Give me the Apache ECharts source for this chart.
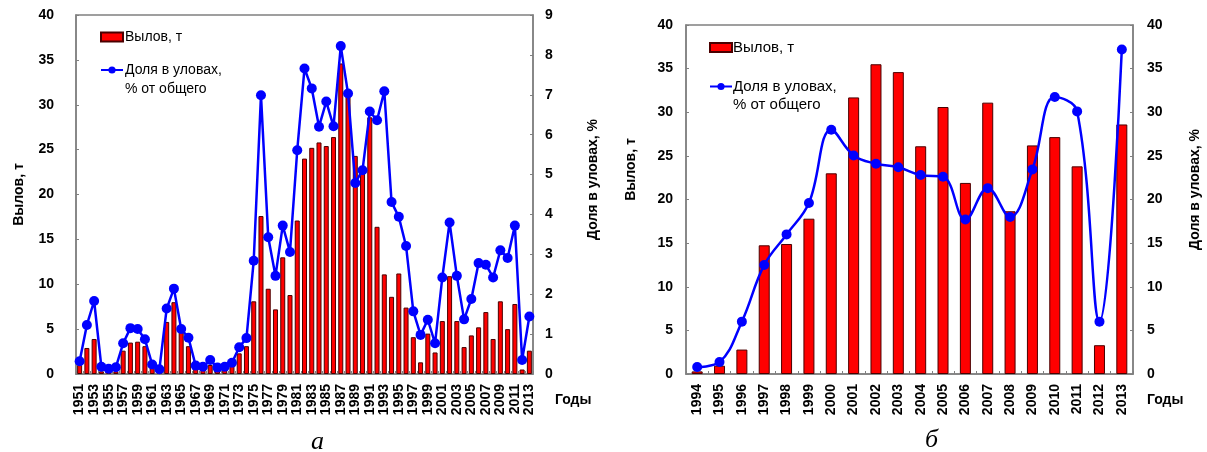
<!DOCTYPE html>
<html><head><meta charset="utf-8">
<script src="https://cdn.jsdelivr.net/npm/echarts@6/dist/echarts.min.js"></script>
<style>html,body{margin:0;padding:0;background:#fff}#c{width:1207px;height:452px}</style>
</head><body><div id="c"></div>
<script>
const yearsA = [];
for (let y = 1951; y <= 2013; y++) yearsA.push(String(y));
const catchA = [1.0,2.9,3.9,0.3,0.2,0.3,2.6,3.5,3.6,3.1,0.9,0.3,5.8,8.0,5.3,3.1,0.8,0.7,1.0,0.5,0.7,1.0,2.3,3.1,8.1,17.6,9.5,7.2,13.0,8.8,17.1,24.0,25.2,25.8,25.4,26.4,34.6,31.0,24.3,22.5,28.6,16.4,11.1,8.6,11.2,7.4,4.1,1.3,4.5,2.4,5.9,10.9,5.9,3.0,4.3,5.2,6.9,3.9,8.1,5.0,7.8,0.5,2.6];
const shareA = [0.32,1.23,1.83,0.18,0.13,0.17,0.77,1.15,1.13,0.87,0.24,0.12,1.64,2.14,1.13,0.91,0.21,0.18,0.35,0.16,0.18,0.28,0.67,0.90,2.84,6.99,3.43,2.46,3.72,3.06,5.61,7.66,7.16,6.2,6.83,6.21,8.22,7.03,4.79,5.11,6.58,6.36,7.09,4.31,3.94,3.21,1.57,0.98,1.36,0.77,2.42,3.8,2.46,1.37,1.88,2.78,2.74,2.42,3.1,2.91,3.72,0.35,1.44];
const yearsB = ['1994','1995','1996','1997','1998','1999','2000','2001','2002','2003','2004','2005','2006','2007','2008','2009','2010','2011','2012','2013'];
const catchB = [0.3,0.95,2.8,14.75,14.9,17.8,23.0,31.7,35.5,34.6,26.1,30.6,21.9,31.1,18.65,26.2,27.15,23.8,3.3,28.6];
const shareB = [0.8,1.37,6.0,12.5,16.0,19.6,28.0,25.05,24.1,23.7,22.8,22.6,17.7,21.3,18.0,23.45,31.75,30.1,6.0,37.2];
const nameCatch = 'Вылов, т';
const nameShare = 'Доля в уловах,';

const FONT = 'Liberation Sans, Arial, sans-serif';
const gray = '#808080';
const lblStyle = {color:'#000', fontFamily:FONT, fontSize:14, fontWeight:'bold'};
const nameStyle = {color:'#000', fontFamily:FONT, fontSize:14, fontWeight:'bold'};

function yAx(grid, max, interval, pos, margin, name, gap, pad) {
  return {
    type:'value', gridIndex:grid, min:0, max:max, interval:interval, position:pos,
    axisLine:{show:true, lineStyle:{color:gray, width:1.5}},
    axisTick:{show:true, inside:true, length:3, lineStyle:{color:gray}},
    splitLine:{show:false},
    axisLabel:Object.assign({margin:margin}, lblStyle),
    name:name, nameLocation:'middle', nameRotate:90, nameGap:gap,
    nameTextStyle:Object.assign({padding:pad || 0}, nameStyle)
  };
}
function xAx(grid, data, interval, gap) {
  return {
    type:'category', gridIndex:grid, data:data,
    axisLine:{show:true, lineStyle:{color:gray, width:1.5}},
    axisTick:{show:true, inside:true, length:3, alignWithLabel:false, interval:0, lineStyle:{color:gray}},
    axisLabel:Object.assign({rotate:90, interval:interval, margin:10}, lblStyle),
    name:'Годы', nameLocation:'end', nameGap:gap,
    nameTextStyle:Object.assign({verticalAlign:'top', align:'left', padding:[19,0,0,0]}, nameStyle)
  };
}

const barItem = {color:'#ff0000', borderColor:'#4a0000', borderWidth:1};
const lineStyle = {color:'#0000ff', width:2.5};

const option = {
  animation:false,
  backgroundColor:'#fff',
  title:[
    {text:'а', left:306, top:424, textStyle:{fontFamily:'Liberation Serif, serif', fontStyle:'italic', fontWeight:'normal', fontSize:26, color:'#000'}},
    {text:'б', left:920, top:422, textStyle:{fontFamily:'Liberation Serif, serif', fontStyle:'italic', fontWeight:'normal', fontSize:26, color:'#000'}}
  ],
  grid:[
    {left:76, right:674, top:15, bottom:78, show:true, borderColor:gray, borderWidth:1.5, backgroundColor:'transparent'},
    {left:686, right:74, top:25, bottom:78, show:true, borderColor:gray, borderWidth:1.5, backgroundColor:'transparent'}
  ],
  legend:[
    {left:100, top:30, padding:0, orient:'vertical', itemWidth:22, itemHeight:9, itemGap:19,
     data:[{name:nameCatch, icon:'rect'}, nameShare],
     textStyle:{fontFamily:FONT, fontSize:14, color:'#000', padding:[0,0,0,-3]}},
    {left:709, top:40, padding:0, orient:'vertical', itemWidth:22, itemHeight:9, itemGap:24,
     data:[{name:nameCatch, icon:'rect'}, nameShare],
     textStyle:{fontFamily:FONT, fontSize:15, color:'#000', padding:[0,0,0,-4]}}
  ],
  graphic:[
    {type:'text', left:125, top:82, style:{text:'% от общего', font:'14px Liberation Sans, Arial, sans-serif', fill:'#000'}},
    {type:'text', left:733, top:97, style:{text:'% от общего', font:'15px Liberation Sans, Arial, sans-serif', fill:'#000'}}
  ],
  xAxis:[ xAx(0, yearsA, 1, 22), xAx(1, yearsB, 0, 14) ],
  yAxis:[
    yAx(0, 40, 5, 'left', 22, 'Вылов, т', 50),
    yAx(0, 9, 1, 'right', 12, 'Доля в уловах, %', 53, [0,0,0,30]),
    yAx(1, 40, 5, 'left', 13, 'Вылов, т', 48, [0,0,0,60]),
    yAx(1, 40, 5, 'right', 14, 'Доля в уловах, %', 55, [0,0,0,20])
  ],
  series:[
    {name:nameCatch, type:'bar', xAxisIndex:0, yAxisIndex:0, data:catchA, barWidth:5, itemStyle:barItem},
    {name:nameShare, type:'line', xAxisIndex:0, yAxisIndex:1, data:shareA, symbol:'circle', symbolSize:10, showAllSymbol:true,
     lineStyle:lineStyle, itemStyle:{color:'#0000ff'}},
    {name:nameCatch, type:'bar', xAxisIndex:1, yAxisIndex:2, data:catchB, barWidth:11, itemStyle:barItem},
    {name:nameShare, type:'line', xAxisIndex:1, yAxisIndex:3, data:shareB, symbol:'circle', symbolSize:10, showAllSymbol:true, smooth:0.4,
     lineStyle:lineStyle, itemStyle:{color:'#0000ff'}}
  ]
};
const chart = echarts.init(document.getElementById('c'), null, {renderer:'canvas'});
chart.setOption(option);
</script></body></html>
